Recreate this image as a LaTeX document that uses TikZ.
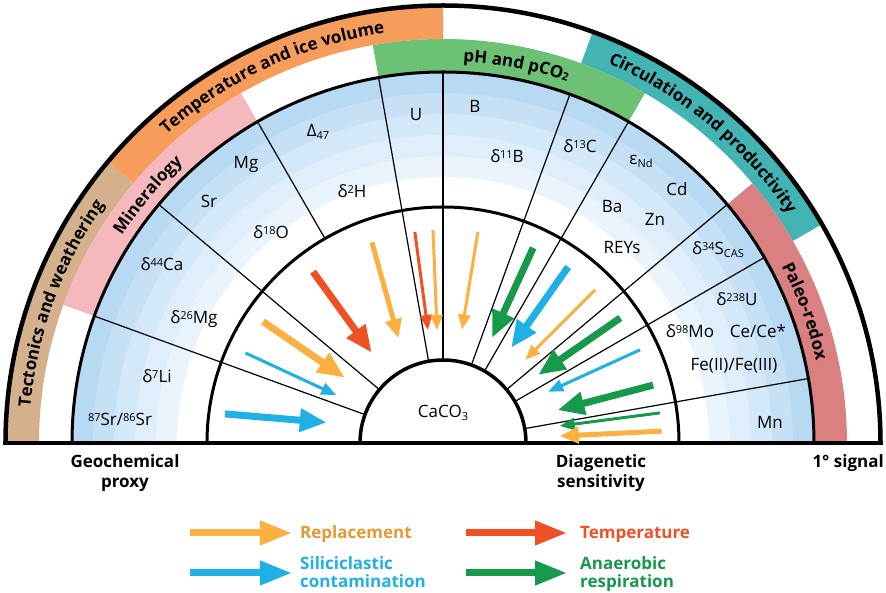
\documentclass[tikz,border=0pt]{standalone}
\usepackage{fontspec}
\setmainfont{Open Sans}
\usetikzlibrary{arrows.meta,decorations.text}
\definecolor{bandBrown}{HTML}{D4B18C}
\definecolor{bandOrange}{HTML}{F79D5C}
\definecolor{bandGreen}{HTML}{6DC174}
\definecolor{bandTeal}{HTML}{41B4B3}
\definecolor{bandPink}{HTML}{F5B8BD}
\definecolor{bandRose}{HTML}{DA8080}
\definecolor{ringA}{HTML}{B8D9F2}
\definecolor{ringB}{HTML}{C6E0F5}
\definecolor{ringC}{HTML}{D3E8F8}
\definecolor{ringD}{HTML}{DFEEFA}
\definecolor{ringE}{HTML}{EAF4FC}
\definecolor{arOrange}{HTML}{FBB03F}
\definecolor{arBlue}{HTML}{1FB1E6}
\definecolor{arRed}{HTML}{EF5024}
\definecolor{arGreen}{HTML}{16994A}
\definecolor{txOrange}{HTML}{E39A30}
\newcommand\supx[1]{\raisebox{4.6pt}{\fontsize{11}{11}\selectfont #1}}
\newcommand\subx[1]{\raisebox{-2.6pt}{\fontsize{11}{11}\selectfont #1}}
\newcommand\bandsector[5]{\fill[#1] (#2:#4) arc[start angle=#2,end angle=#3,radius=#4] -- (#3:#5) arc[start angle=#3,end angle=#2,radius=#5] -- cycle;}
\newcommand\halfdisc[2]{\fill[#1] (0:#2) arc[start angle=0,end angle=180,radius=#2] -- cycle;}
\begin{document}
\begin{tikzpicture}[
  x=1pt,y=1pt,
  proxy/.style={font=\fontsize{17}{17}\selectfont, anchor=base, inner sep=0pt},
  boldlbl/.style={font=\bfseries\fontsize{17}{17}\selectfont, anchor=base, inner sep=0pt},
  legendlbl/.style={font=\bfseries\fontsize{17}{17}\selectfont, anchor=base west, inner sep=0pt},
  divider/.style={line width=1.2pt},
  ringline/.style={line width=3pt},
  thickarrow/.style={line width=7pt, -{Triangle[length=27pt,width=22pt]}},
  medarrow/.style={line width=5pt, -{Triangle[length=19pt,width=16pt]}},
  thinarrow/.style={line width=3pt, -{Triangle[length=15pt,width=12pt]}},
  legendarrow/.style={line width=7pt, -{Triangle[length=32pt,width=23pt]}},
  bandtext/.style={decorate, decoration={text along path, text align=center, text={#1}}},
]
\useasboundingbox (-443,-150) rectangle (443,443);
\fill[white] (-443,-150) rectangle (443,443);

% coloured bands
\bandsector{bandBrown}{140}{180}{436pt}{404pt}
\bandsector{bandOrange}{90}{140}{436pt}{404pt}
\bandsector{bandTeal}{30}{70}{436pt}{404pt}
\bandsector{bandPink}{120}{160}{404pt}{371pt}
\bandsector{bandGreen}{60}{100}{404pt}{371pt}
\bandsector{bandRose}{0}{40}{404pt}{371pt}

% blue rings of the proxy zone
\halfdisc{ringA}{371pt}
\halfdisc{ringB}{350pt}
\halfdisc{ringC}{329pt}
\halfdisc{ringD}{308pt}
\halfdisc{ringE}{287pt}
\halfdisc{white}{266pt}

% sector dividers
\foreach \a in {10,30,40,60,70,90,100,140,160}
  \draw[divider] (\a:83pt) -- (\a:371pt);
\draw[divider] (120:236pt) -- (120:371pt);

% CaCO3 core
\halfdisc{white}{83pt}
\draw[line width=3.5pt] (0:83pt) arc[start angle=0,end angle=180,radius=83pt];
\draw[ringline] (0:236pt) arc[start angle=0,end angle=180,radius=236pt];
\draw[ringline] (0:371pt) arc[start angle=0,end angle=180,radius=371pt];
\draw[line width=4.5pt] (0:437.5pt) arc[start angle=0,end angle=180,radius=437.5pt];
\draw[line width=4.5pt] (-439.7,0) -- (439.7,0);

% band labels
\path[bandtext={|\bfseries\fontsize{17}{17}\selectfont|Tectonics and weathering}] (180:414pt) arc[start angle=180,end angle=140,radius=414pt];
\path[bandtext={|\bfseries\fontsize{17}{17}\selectfont|Temperature and ice volume}] (140:414pt) arc[start angle=140,end angle=90,radius=414pt];
\path[bandtext={|\bfseries\fontsize{17}{17}\selectfont|Circulation and productivity}] (70:414pt) arc[start angle=70,end angle=30,radius=414pt];
\path[bandtext={|\bfseries\fontsize{17}{17}\selectfont|Mineralogy}] (160:382pt) arc[start angle=160,end angle=120,radius=382pt];
\path[bandtext={|\bfseries\fontsize{17}{17}\selectfont|pH and pCO|\bfseries\fontsize{11}{11}\selectfont\raisebox{-3pt}|2}] (100:382pt) arc[start angle=100,end angle=58,radius=382pt];
\path[bandtext={|\bfseries\fontsize{17}{17}\selectfont|Paleo-redox}] (40:382pt) arc[start angle=40,end angle=0,radius=382pt];

% proxies
\node[proxy] (pSrSr) at (-323,17) {\supx{87}Sr/\supx{86}Sr};
\node[proxy] (pLi) at (-286,60) {δ\supx{7}Li};
\node[proxy] (pMgi) at (-249,119) {δ\supx{26}Mg};
\node[proxy] (pCa) at (-281,172) {δ\supx{44}Ca};
\node[proxy] (pSr) at (-234,235) {Sr};
\node[proxy] (pMg) at (-197,274) {Mg};
\node[proxy] (pO) at (-172,204) {δ\supx{18}O};
\node[proxy] (pD) at (-125,306) {Δ\subx{47}};
\node[proxy] (pH) at (-91,245) {δ\supx{2}H};
\node[proxy] (pU) at (-27,322) {U};
\node[proxy] (pB) at (32,330) {B};
\node[proxy] (pBi) at (64,280) {δ\supx{11}B};
\node[proxy] (pC) at (137,290) {δ\supx{13}C};
\node[proxy] (pNd) at (198,278) {ε\subx{Nd}};
\node[proxy] (pCd) at (234,247) {Cd};
\node[proxy] (pBa) at (169,230) {Ba};
\node[proxy] (pZn) at (212,217) {Zn};
\node[proxy] (pREY) at (179,189) {REYs};
\node[proxy] (pS) at (275,188) {δ\supx{34}S\subx{CAS}};
\node[proxy] (pUi) at (294,137) {δ\supx{238}U};
\node[proxy] (pMo) at (247,105) {δ\supx{98}Mo};
\node[proxy] (pCe) at (315,105) {Ce/Ce*};
\node[proxy] (pFe) at (291,72) {Fe(II)/Fe(III)};
\node[proxy] (pMn) at (327,14) {Mn};
\node[proxy] (core) at (0,25) {CaCO\subx{3}};

% diagenetic arrows
\coordinate (t1) at (127.2:215pt); \coordinate (h1) at (128.3:115pt);
\coordinate (t2) at (109.5:213pt); \coordinate (h2) at (113:114pt);
\coordinate (t3) at (97.6:213pt); \coordinate (h3) at (97.6:114pt);
\coordinate (t4) at (92.7:213pt); \coordinate (h4) at (93:113pt);
\coordinate (t5) at (80.6:214pt); \coordinate (h5) at (80.5:115pt);
\coordinate (t6) at (65.2:215pt); \coordinate (h6) at (65:116pt);
\coordinate (t7) at (54.6:216pt); \coordinate (h7) at (54.4:117pt);
\coordinate (t8) at (45.2:216pt); \coordinate (h8) at (45.3:117pt);
\coordinate (t9) at (35.2:217pt); \coordinate (h9) at (35.6:117pt);
\coordinate (t10) at (25.3:218pt); \coordinate (h10) at (26:117pt);
\coordinate (t11) at (15.4:218pt); \coordinate (h11) at (16:119pt);
\coordinate (t12) at (7.9:219pt); \coordinate (h12) at (8.3:118pt);
\coordinate (t13) at (3.1:219pt); \coordinate (h13) at (3.4:117pt);
\coordinate (t14) at (146:217pt); \coordinate (h14) at (146.4:118pt);
\coordinate (t15) at (155.5:217pt); \coordinate (h15) at (155.8:117pt);
\coordinate (t16) at (172.4:220pt); \coordinate (h16) at (170:118pt);
\draw[thickarrow, arRed] (t1) -- (h1);
\draw[medarrow, arOrange] (t2) -- (h2);
\draw[thinarrow, arRed] (t3) -- (h3);
\draw[thinarrow, arOrange] (t4) -- (h4);
\draw[thinarrow, arOrange] (t5) -- (h5);
\draw[thickarrow, arGreen] (t6) -- (h6);
\draw[thickarrow, arBlue] (t7) -- (h7);
\draw[thinarrow, arOrange] (t8) -- (h8);
\draw[thickarrow, arGreen] (t9) -- (h9);
\draw[thinarrow, arBlue] (t10) -- (h10);
\draw[thickarrow, arGreen] (t11) -- (h11);
\draw[thinarrow, arGreen] (t12) -- (h12);
\draw[medarrow, arOrange] (t13) -- (h13);
\draw[thickarrow, arOrange] (t14) -- (h14);
\draw[thinarrow, arBlue] (t15) -- (h15);
\draw[thickarrow, arBlue] (t16) -- (h16);

% axis labels
\node[boldlbl] (gA) at (-318,-25) {Geochemical};
\node[boldlbl] (gB) at (-318,-45) {proxy};
\node[boldlbl] (dA) at (158,-25) {Diagenetic};
\node[boldlbl] (dB) at (158,-45) {sensitivity};
\node[boldlbl, anchor=base east] (sig) at (441,-25) {1° signal};

% legend
\coordinate (lOt) at (-253,-90); \coordinate (lOh) at (-151,-90);
\coordinate (lBt) at (-253,-130); \coordinate (lBh) at (-151,-130);
\coordinate (lRt) at (23,-90); \coordinate (lRh) at (124,-90);
\coordinate (lGt) at (23,-130); \coordinate (lGh) at (124,-130);
\draw[legendarrow, arOrange] (lOt) -- (lOh);
\draw[legendarrow, arBlue] (lBt) -- (lBh);
\draw[legendarrow, arRed] (lRt) -- (lRh);
\draw[legendarrow, arGreen] (lGt) -- (lGh);
\node[legendlbl, text=txOrange] (lgO) at (-143,-96) {Replacement};
\node[legendlbl, text=arBlue] (lgB1) at (-143,-127) {Siliciclastic};
\node[legendlbl, text=arBlue] (lgB2) at (-143,-145) {contamination};
\node[legendlbl, text=arRed] (lgR) at (137,-96) {Temperature};
\node[legendlbl, text=arGreen] (lgG1) at (137,-127) {Anaerobic};
\node[legendlbl, text=arGreen] (lgG2) at (137,-145) {respiration};
\end{tikzpicture}
\end{document}
